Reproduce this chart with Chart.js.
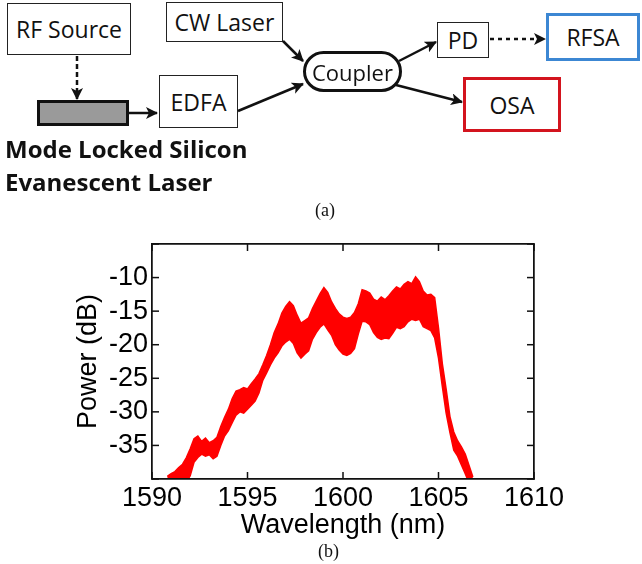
<!DOCTYPE html>
<html>
<head>
<meta charset="utf-8">
<script src="https://cdn.jsdelivr.net/npm/chart.js@4.4.1/dist/chart.umd.min.js"></script>
<style>
  html, body { margin: 0; padding: 0; background: #fff; }
  #wrap { position: relative; width: 642px; height: 564px; overflow: hidden; }
  #spectrum { position: absolute; left: 0; top: 0; }
  .box {
    position: absolute; box-sizing: border-box; border: 1.5px solid #222;
    display: flex; align-items: center; justify-content: center;
    font-family: 'Open Sans', sans-serif; font-size: 23px; color: #111; background: #fff;
  }
  .cap { position: absolute; font-family: 'Liberation Serif', serif; font-size: 18px; color: #111; }
  #laserName { position: absolute; left: 5px; top: 132px; font-family: 'Open Sans', sans-serif;
    font-weight: bold; font-size: 24px; line-height: 33px; color: #111; }
  #arrows { position: absolute; left: 0; top: 0; }
  #plotFrame { position: absolute; left: 151px; top: 243px; width: 381px; height: 234px;
    border: 1.5px solid #111; pointer-events: none; }
</style>
</head>
<body>
<div id="wrap">
  <canvas id="spectrum" width="642" height="564"></canvas>
  <div id="plotFrame"></div>

  <!-- setup diagram (a) -->
  <div class="box" style="left:7px;top:3px;width:124px;height:52px;">RF Source</div>
  <div class="box" style="left:37px;top:100px;width:92px;height:26px;background:#9a9a9a;border:3px solid #111;"></div>
  <div class="box" style="left:159px;top:75px;width:79px;height:53px;">EDFA</div>
  <div class="box" style="left:166px;top:2px;width:117px;height:40px;">CW Laser</div>
  <div class="box" style="left:303px;top:51px;width:99px;height:41px;border:3px solid #111;border-radius:21px;font-size:22px;">Coupler</div>
  <div class="box" style="left:437px;top:22px;width:52px;height:36px;">PD</div>
  <div class="box" style="left:546px;top:13px;width:94px;height:48px;border:3px solid #3c87d3;">RFSA</div>
  <div class="box" style="left:463px;top:77px;width:98px;height:55px;border:3px solid #d3141e;">OSA</div>
  <div id="laserName">Mode Locked Silicon<br>Evanescent Laser</div>

  <svg id="arrows" width="642" height="200">
    <defs>
      <marker id="arrowHead" markerWidth="12" markerHeight="12" refX="11" refY="6" orient="auto" markerUnits="userSpaceOnUse">
        <path d="M0,0 L12,6 L0,12 L3,6 z" fill="#111"/>
      </marker>
    </defs>
    <g stroke="#111" stroke-width="2.5" fill="none">
      <line x1="77" y1="56" x2="77" y2="99" stroke-dasharray="5,3" marker-end="url(#arrowHead)"/>
      <line x1="129" y1="113" x2="157" y2="113" marker-end="url(#arrowHead)"/>
      <line x1="283" y1="41" x2="303" y2="61" marker-end="url(#arrowHead)"/>
      <line x1="238" y1="111" x2="303" y2="84" marker-end="url(#arrowHead)"/>
      <line x1="399" y1="61" x2="436" y2="42" marker-end="url(#arrowHead)"/>
      <line x1="490" y1="39" x2="545" y2="39" stroke-dasharray="4,4" marker-end="url(#arrowHead)"/>
      <line x1="396" y1="85" x2="462" y2="102" marker-end="url(#arrowHead)"/>
    </g>
  </svg>

  <div class="cap" style="left:315px;top:200px;">(a)</div>
  <div class="cap" style="left:318px;top:541px;">(b)</div>
</div>

<script>
// spectrum: upper and lower edge of the noisy band (dB)
const wavelength = [
  1590.8, 1591.0, 1591.2, 1591.4, 1591.6, 1591.8, 1592.0, 1592.2, 1592.4, 1592.6,
  1592.8, 1593.0, 1593.2, 1593.4, 1593.6, 1593.8, 1594.0, 1594.2, 1594.4, 1594.6,
  1594.8, 1595.0, 1595.2, 1595.4, 1595.6, 1595.8, 1596.0, 1596.2, 1596.4, 1596.6,
  1596.8, 1597.0, 1597.2, 1597.4, 1597.6, 1597.8, 1598.0, 1598.2, 1598.4, 1598.6,
  1598.8, 1599.0, 1599.2, 1599.4, 1599.6, 1599.8, 1600.0, 1600.2, 1600.4, 1600.6,
  1600.8, 1601.0, 1601.2, 1601.4, 1601.6, 1601.8, 1602.0, 1602.2, 1602.4, 1602.6,
  1602.8, 1603.0, 1603.2, 1603.4, 1603.6, 1603.8, 1604.0, 1604.2, 1604.4, 1604.6,
  1604.8, 1605.0, 1605.2, 1605.4, 1605.6, 1605.8, 1606.0, 1606.2, 1606.4, 1606.6,
  1606.8
];
const powerUpper = [
  -39.6, -39.2, -38.9, -38.3, -37.8, -36.8, -35.5, -34.0, -33.6, -34.4,
  -33.9, -34.6, -34.3, -33.8, -32.2, -30.8, -29.6, -28.0, -26.9, -26.7,
  -26.4, -26.6, -25.8, -25.1, -24.3, -23.0, -21.6, -20.0, -18.2, -16.9,
  -15.3, -14.3, -13.6, -14.2, -15.6, -16.8, -16.4, -16.0, -14.6, -13.5,
  -12.4, -11.5, -12.2, -13.6, -14.6, -15.4, -15.9, -16.1, -15.9, -15.2,
  -13.9, -11.8, -12.0, -12.3, -13.2, -13.5, -12.9, -13.3, -12.7, -12.0,
  -11.4, -11.7, -11.0, -10.6, -10.9, -9.9, -10.6, -12.0, -12.6, -12.5,
  -13.0, -17.5, -22.8, -26.6, -30.7, -33.0, -34.3, -35.2, -36.3, -38.0,
  -39.7
];
const powerLower = [
  -41, -41, -41, -41, -41, -40.5, -39.5, -37.5, -36.8, -36.3,
  -36.6, -36.4, -37.0, -36.6, -35.0, -33.6, -32.8, -31.6, -30.5, -30.0,
  -30.2, -29.6, -29.0, -28.4, -27.2, -25.3, -24.2, -23.0, -22.0, -21.2,
  -20.2, -19.6, -19.2, -19.8, -21.2, -22.0, -21.4, -20.9, -19.2, -18.2,
  -17.4, -16.9, -17.8, -18.6, -20.0, -20.8, -21.4, -21.6, -21.3, -20.6,
  -18.4, -16.5, -16.6, -17.0, -18.2, -18.9, -19.2, -19.0, -19.1, -18.3,
  -17.4, -17.6, -17.3, -16.6, -16.2, -16.4, -16.2, -17.3, -17.6, -17.9,
  -19.0, -22.0, -26.2, -30.2, -33.1, -35.7, -36.6, -37.9, -39.2, -40.6,
  -41
];
const xTicks = [1590, 1595, 1600, 1605, 1610];
const yTicks = [-40, -35, -30, -25, -20, -15, -10, -5];

const traceColor = '#ff0000';
const axisFont = { family: 'Liberation Sans, Arial, sans-serif', size: 27 };

const toPoints = (xs, ys) => xs.map((x, i) => ({ x, y: ys[i] }));

// inward tick marks on all four sides, filled as thin rects
const tickPlugin = {
  id: 'inwardTicks',
  afterDraw(chart) {
    const ctx = chart.ctx;
    const a = chart.chartArea;
    const len = 7;
    const w = 1.5;
    ctx.save();
    ctx.fillStyle = '#111';
    ctx.fillRect(a.left - w / 2, a.top - w / 2, a.right - a.left + w, w);
    ctx.fillRect(a.left - w / 2, a.bottom - w / 2, a.right - a.left + w, w);
    ctx.fillRect(a.left - w / 2, a.top - w / 2, w, a.bottom - a.top + w);
    ctx.fillRect(a.right - w / 2, a.top - w / 2, w, a.bottom - a.top + w);
    xTicks.forEach((v) => {
      const px = chart.scales.x.getPixelForValue(v);
      ctx.fillRect(px - w / 2, a.bottom - len, w, len);
      ctx.fillRect(px - w / 2, a.top, w, len);
    });
    yTicks.forEach((v) => {
      const py = chart.scales.y.getPixelForValue(v);
      ctx.fillRect(a.left, py - w / 2, len, w);
      ctx.fillRect(a.right - len, py - w / 2, len, w);
    });
    ctx.restore();
  }
};

new Chart(document.getElementById('spectrum'), {
  type: 'line',
  data: {
    datasets: [
      {
        data: toPoints(wavelength, powerUpper),
        borderColor: traceColor,
        backgroundColor: traceColor,
        borderWidth: 1.5,
        pointRadius: 0,
        fill: '+1',
      },
      {
        data: toPoints(wavelength, powerLower),
        borderColor: traceColor,
        borderWidth: 1.5,
        pointRadius: 0,
        fill: false,
      },
    ],
  },
  options: {
    responsive: false,
    animation: false,
    layout: { padding: { left: 72, top: 244, right: 108, bottom: 0 } },
    plugins: { legend: { display: false }, tooltip: { enabled: false } },
    scales: {
      x: {
        type: 'linear',
        min: 1590,
        max: 1610,
        afterFit: (s) => { s.height = 85; },
        afterBuildTicks: (s) => { s.ticks = xTicks.map((v) => ({ value: v })); },
        grid: { display: false, drawTicks: false },
        border: { display: false },
        ticks: { font: axisFont, color: '#000', padding: 3, maxRotation: 0, autoSkip: false,
          callback: (v) => String(v) },
        title: { display: true, text: 'Wavelength (nm)', font: axisFont, color: '#000', padding: { top: 0, bottom: 22 } },
      },
      y: {
        type: 'linear',
        min: -40,
        max: -5,
        afterFit: (s) => { s.width = 80; },
        afterBuildTicks: (s) => { s.ticks = yTicks.map((v) => ({ value: v })); },
        grid: { display: false, drawTicks: false },
        border: { display: false },
        ticks: {
          font: axisFont, color: '#000', padding: 4, autoSkip: false,
          callback: (v) => (v === -40 || v === -5 ? '' : String(v)),
        },
        title: { display: true, text: 'Power (dB)', font: axisFont, color: '#000', padding: { top: 0, bottom: 0 } },
      },
    },
  },
  plugins: [tickPlugin],
});
</script>
</body>
</html>
